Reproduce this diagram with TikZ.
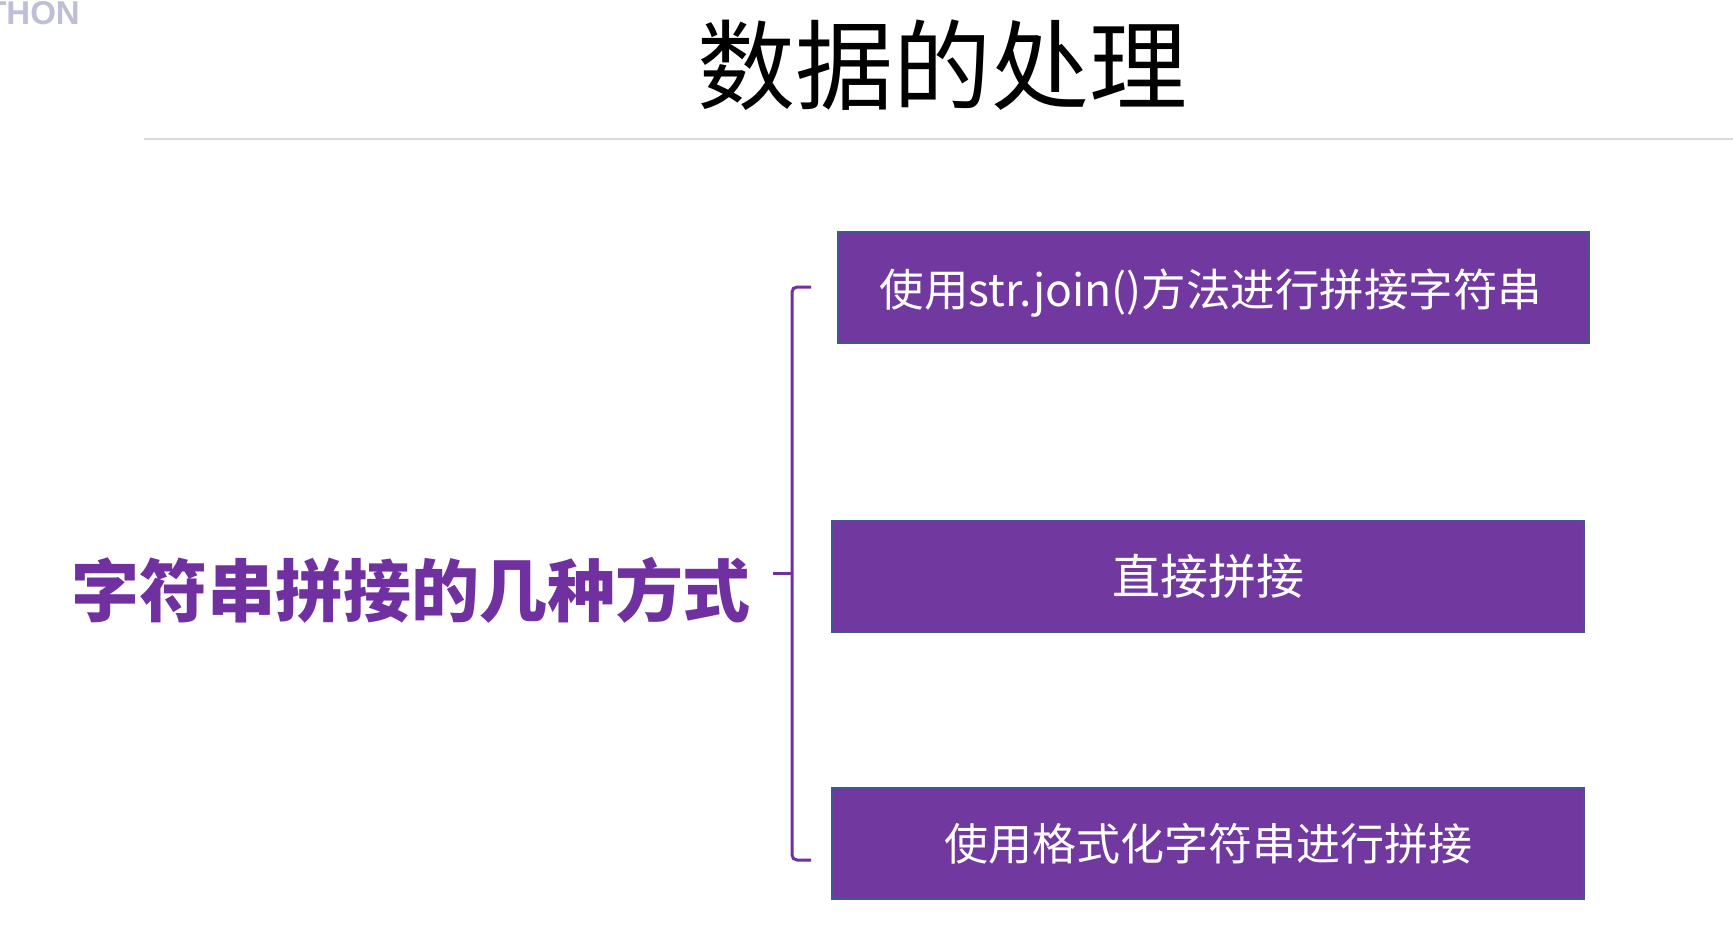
\documentclass[tikz,border=0pt]{standalone}
\usepackage{fontspec}
\setmainfont{Noto Sans CJK SC}
\newfontfamily\latinbold{Liberation Sans}
\begin{document}
\begin{tikzpicture}[x=1pt,y=-1pt,
  boxstyle/.style={draw={rgb,255:red,68;green,84;blue,150}, line width=2pt,
    fill={rgb,255:red,113;green,57;blue,160}, text=white,
    minimum width=751pt, minimum height=111pt, inner sep=0pt},
  bracestyle/.style={draw={rgb,255:red,112;green,48;blue,160}, line width=3pt, rounded corners=5pt}]
\useasboundingbox (0,0) rectangle (1733,942);
\fill[white] (0,0) rectangle (1733,942);
% header remnant
\begin{scope}
\clip (0,0) rectangle (1733,942);
\node[anchor=base east, inner sep=0pt, text={rgb,255:red,190;green,190;blue,215}, font=\latinbold\bfseries\fontsize{33}{33}\selectfont] (hdr) at (80,25) {THON};
\end{scope}
% title
\node (title) at (942,65) {\fontsize{98}{100}\selectfont 数据的处理};
\draw[line width=1.5pt, draw={rgb,255:red,218;green,218;blue,218}] (144,139) -- (1733,139);
% main label
\node[text={rgb,255:red,112;green,48;blue,160}, font=\bfseries\fontsize{68}{70}\selectfont] (main) at (411,590) {字符串拼接的几种方式};
% brace
\coordinate (bt) at (811,287);
\coordinate (bb) at (811,860);
\coordinate (bm) at (773,573);
\draw[bracestyle] (bt) -- (792,287) -- (792,860) -- (bb);
\draw[bracestyle, rounded corners=0pt] (bm) -- (792,573);
% boxes
\node[boxstyle, minimum width=751pt] (b1) at (1213.5,287) {};
\node[text=white, font=\fontsize{44.5}{46}\selectfont, inner sep=0pt] (t1) at (1211,293) {使用str.join()方法进行拼接字符串};
\node[boxstyle, minimum width=752pt, font=\fontsize{48}{50}\selectfont] (b2) at (1208,576) {直接拼接};
\node[boxstyle, minimum width=752pt, font=\fontsize{44}{46}\selectfont] (b3) at (1208,843.5) {使用格式化字符串进行拼接};
\end{tikzpicture}
\end{document}
